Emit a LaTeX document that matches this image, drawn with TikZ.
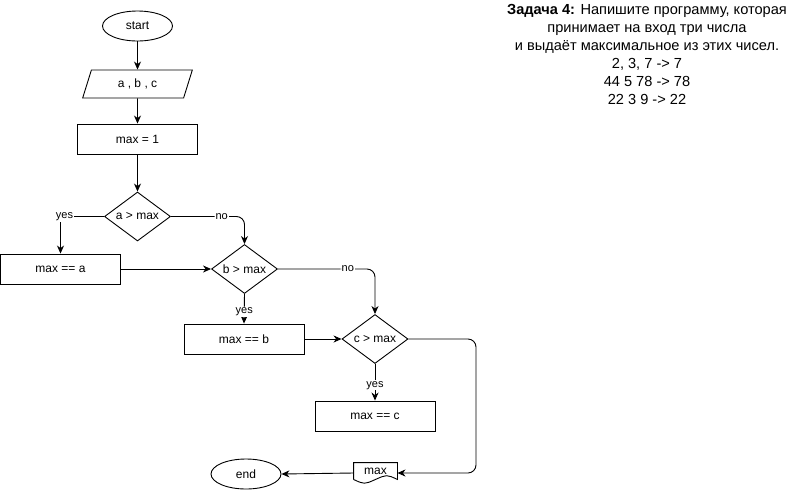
\documentclass[tikz,border=0pt]{standalone}
\usepackage{fontspec}
\setmainfont{Liberation Sans}
\usetikzlibrary{shapes.geometric,arrows.meta,calc}

\begin{document}
\begin{tikzpicture}[x=1pt,y=-1pt,line width=0.9pt,
  font=\fontsize{12}{14}\selectfont,
  box/.style={draw,rectangle,minimum width=120pt,minimum height=30pt,inner sep=0pt},
  term/.style={draw,ellipse,minimum width=70pt,minimum height=30pt,inner sep=0pt},
  cond/.style={draw,diamond,aspect=1.35,minimum width=66pt,minimum height=49pt,inner sep=0pt},
  inbox/.style={draw,trapezium,trapezium left angle=70,trapezium right angle=110,
    minimum width=110pt,minimum height=28pt,inner sep=0pt,trapezium stretches=true},
  arr/.style={-{Stealth[length=8pt,width=7pt,inset=2.5pt]}},
  lbl/.style={fill=white,inner sep=1pt,font=\fontsize{11}{13}\selectfont}]
\useasboundingbox (0,0) rectangle (806,491);

% problem statement
\node[align=center,font=\fontsize{14.6}{18}\selectfont] (task) at (647,54)
  {\textbf{Задача 4:} Напишите программу, которая\\
   принимает на вход три числа\\
   и выдаёт максимальное из этих чисел.\\
   2, 3, 7 -> 7\\
   44 5 78 -> 78\\
   22 3 9 -> 22};

% flowchart blocks
\node[term] (start) at (137.5,26) {start};
\node[inbox] (abc) at (137.5,84) {a , b , c};
\node[box] (init) at (137.5,139) {max = 1};
\node[cond] (ca) at (137.5,216.5) {a > max};
\node[box] (seta) at (60.5,269) {max == a};
\node[cond] (cb) at (244.5,269) {b > max};
\node[box] (setb) at (244,339) {max == b};
\node[cond] (cc) at (375,339) {c > max};
\node[box] (setc) at (375,416) {max == c};
\node[minimum width=43pt,minimum height=20pt,inner sep=0pt,text depth=4pt] (outp) at (375.5,473) {max};
\node[term] (stop) at (246,474) {end};
\coordinate (rt) at (476,339);

% document-shaped output block
\draw ($(outp.south west)+(0,-4)$) -- (outp.north west) -- (outp.north east)
  -- ($(outp.south east)+(0,-4)$)
  .. controls ($(outp.south east)+(-10.75,-9)$) .. ($(outp.south)+(0,-4)$)
  .. controls ($(outp.south west)+(10.75,1)$) .. ($(outp.south west)+(0,-4)$);

% connectors
\draw[arr] (start) -- (abc);
\draw[arr] (abc) -- (init);
\draw[arr] (init) -- (ca);
\draw[arr] (ca.west) -| node[lbl,pos=0.5,xshift=4pt]{yes} (seta.north);
\draw[arr,rounded corners=8pt] (ca.east) -| node[lbl,pos=0.345]{no} (cb.north);
\draw[arr] (seta.east) -- (cb.west);
\draw[arr,rounded corners=8pt] (cb.east) -| node[lbl,pos=0.36]{no} (cc.north);
\draw[arr] (cb.south) -- node[lbl,yshift=-3pt]{yes} (setb.north);
\draw[arr] (setb.east) -- (cc.west);
\draw[arr] (cc.south) -- node[lbl,yshift=-3pt]{yes} (setc.north);
\draw[arr,rounded corners=8pt] (cc.east) -- (rt) |- (outp.east);
\draw[arr] (outp.west) -- (stop.east);
\end{tikzpicture}
\end{document}
